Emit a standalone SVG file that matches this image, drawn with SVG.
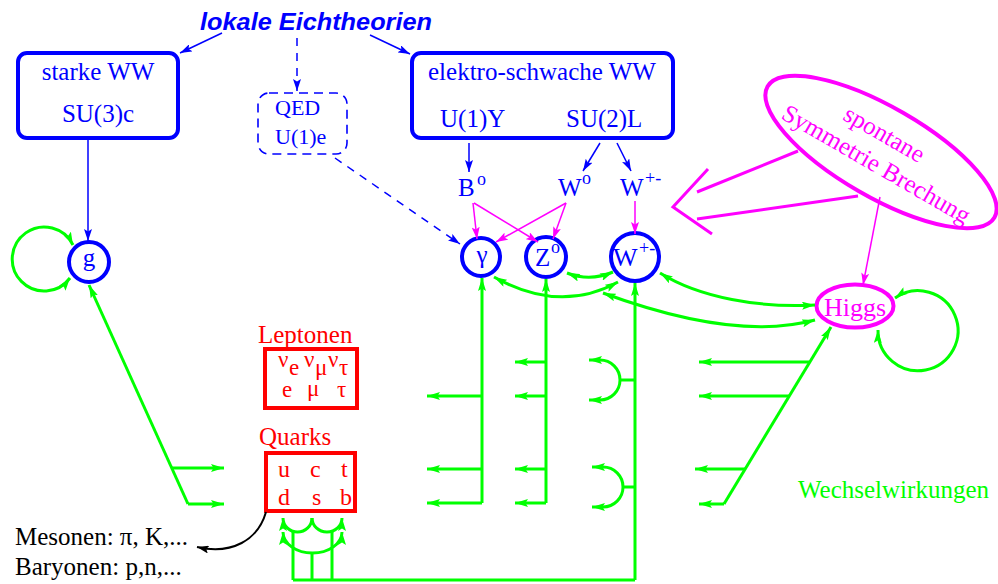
<svg xmlns="http://www.w3.org/2000/svg" width="998" height="584" viewBox="0 0 998 584">
<defs>
<marker id="ab" markerUnits="userSpaceOnUse" markerWidth="12" markerHeight="8" refX="12" refY="4" orient="auto-start-reverse"><path d="M0,0 L12,4 L0,8 L2.5,4 z" fill="#0000ff"/></marker>
<marker id="ag" markerUnits="userSpaceOnUse" markerWidth="13" markerHeight="8" refX="13" refY="4" orient="auto-start-reverse"><path d="M0,0 L13,4 L0,8 L2.5,4 z" fill="#00ff00"/></marker>
<marker id="am" markerUnits="userSpaceOnUse" markerWidth="12" markerHeight="8" refX="12" refY="4" orient="auto-start-reverse"><path d="M0,0 L12,4 L0,8 L2.5,4 z" fill="#ff00ff"/></marker>
<marker id="ak" markerUnits="userSpaceOnUse" markerWidth="12" markerHeight="8" refX="12" refY="4" orient="auto-start-reverse"><path d="M0,0 L12,4 L0,8 L2.5,4 z" fill="#000000"/></marker>
</defs>
<style>
text{font-family:"Liberation Serif","Times New Roman",serif;font-size:25px}
.t{font-family:"Liberation Sans",Arial,sans-serif;font-weight:bold;font-style:italic;font-size:23px;fill:#0000ff}
.b{fill:#0000ff}
.r{fill:#ff0000}
.m{fill:#ff00ff}
.g{fill:#00ff00}
.k{fill:#000000}
.sup{font-size:18px}
.box{fill:none;stroke:#0000ff;stroke-width:4}
.dbox{fill:none;stroke:#0000ff;stroke-width:1.6;stroke-dasharray:9 6}
.circ{fill:none;stroke:#0000ff;stroke-width:4}
.rbox{fill:none;stroke:#ff0000;stroke-width:4}
.mel{fill:none;stroke:#ff00ff;stroke-width:4}
.bl{fill:none;stroke:#0000ff;stroke-width:1.5}
.bd{fill:none;stroke:#0000ff;stroke-width:1.5;stroke-dasharray:8 7}
.ml{fill:none;stroke:#ff00ff;stroke-width:1.5}
.mt{fill:none;stroke:#ff00ff;stroke-width:3}
.gl{fill:none;stroke:#00ff00;stroke-width:3}
.kl{fill:none;stroke:#000000;stroke-width:2}
</style>

<g id="title"><text class="t" x="200" y="30" textLength="232" lengthAdjust="spacingAndGlyphs">lokale Eichtheorien</text></g>

<g id="starke">
<rect class="box" x="18" y="53" width="160" height="85" rx="9"/>
<text class="b" x="98" y="80" text-anchor="middle">starke WW</text>
<text class="b" x="98" y="122" text-anchor="middle">SU(3)c</text>
</g>

<g id="qed">
<rect class="dbox" x="258" y="93" width="89" height="61" rx="11"/>
<text class="b" x="275" y="115" style="font-size:22px">QED</text>
<text class="b" x="275" y="144" style="font-size:22px">U(1)e</text>
</g>

<g id="elektroschwach">
<rect class="box" x="412" y="53" width="261" height="85" rx="9"/>
<text class="b" x="428" y="80">elektro-schwache WW</text>
<text class="b" x="440" y="127">U(1)Y</text>
<text class="b" x="566" y="127">SU(2)L</text>
</g>

<g id="B0"><text class="b" x="458" y="196">B</text><text class="b sup" x="477" y="185">o</text></g>
<g id="W0"><text class="b" x="558" y="196">W</text><text class="b sup" x="582" y="184">o</text></g>
<g id="Wpm"><text class="b" x="620" y="196">W</text><text class="b sup" x="645" y="184">+-</text></g>

<g id="gluon"><circle class="circ" cx="89" cy="262" r="20"/><text class="b" x="89" y="266" text-anchor="middle">g</text></g>
<g id="photon"><circle class="circ" cx="481" cy="257" r="19"/><text class="b" x="482" y="263" text-anchor="middle">γ</text></g>
<g id="Z0"><circle class="circ" cx="546" cy="257" r="20"/><text class="b" x="535" y="266">Z</text><text class="b sup" x="551" y="253">o</text></g>
<g id="Wboson"><circle class="circ" cx="635" cy="257" r="24"/><text class="b" x="613" y="266" style="font-size:26px">W</text><text class="b sup" x="639" y="254">+-</text></g>

<g id="higgs"><ellipse class="mel" cx="855" cy="306" rx="38.5" ry="21.5"/><text class="m" x="855" y="316" text-anchor="middle" style="font-size:26px">Higgs</text></g>

<g id="ssb">
<ellipse class="mel" cx="0" cy="0" rx="131" ry="45" transform="translate(881,152) rotate(30)"/>
<g transform="translate(881,152) rotate(30)">
<text class="m" x="-6" y="-9" text-anchor="middle">spontane</text>
<text class="m" x="2" y="21" text-anchor="middle">Symmetrie Brechung</text>
</g>
</g>

<g id="leptonen">
<text class="r" x="258" y="343">Leptonen</text>
<rect class="rbox" x="265" y="349" width="92" height="59"/>
<text class="r" style="font-size:23px"><tspan x="278" y="367">ν</tspan><tspan x="289" y="375">e</tspan><tspan x="304" y="367">ν</tspan><tspan x="315" y="375">μ</tspan><tspan x="328" y="367">ν</tspan><tspan x="339" y="375">τ</tspan></text>
<text class="r" style="font-size:23px"><tspan x="282" y="397">e</tspan><tspan x="307" y="396">μ</tspan><tspan x="337" y="397">τ</tspan></text>
</g>

<g id="quarks">
<text class="r" x="259" y="445">Quarks</text>
<rect class="rbox" x="266" y="453" width="89" height="58"/>
<text class="r" style="font-size:24px"><tspan x="278" y="477">u</tspan><tspan x="310" y="477">c</tspan><tspan x="341" y="477">t</tspan></text>
<text class="r" style="font-size:24px"><tspan x="278" y="505">d</tspan><tspan x="312" y="505">s</tspan><tspan x="340" y="505">b</tspan></text>
</g>

<g id="hadronen">
<text class="k" x="15" y="545">Mesonen: π, K,...</text>
<text class="k" x="15" y="575">Baryonen: p,n,...</text>
</g>

<g id="wechselwirkungen"><text class="g" x="798" y="498">Wechselwirkungen</text></g>

<g id="connectors">
<!-- blue -->
<path class="bl" d="M222,33 L180,53" marker-end="url(#ab)"/>
<path class="bd" d="M297,38 L297,91" marker-end="url(#ab)"/>
<path class="bl" d="M370,35 L410,54" marker-end="url(#ab)"/>
<path class="bl" d="M88,140 L88,241" marker-end="url(#ab)"/>
<path class="bd" d="M335,158 L460,244" marker-end="url(#ab)"/>
<path class="bl" d="M469,143 L469,172" marker-end="url(#ab)"/>
<path class="bl" d="M600,143 L583,171" marker-end="url(#ab)"/>
<path class="bl" d="M617,143 L631,171" marker-end="url(#ab)"/>
<!-- magenta -->
<path class="ml" d="M473,203 L477,239" marker-end="url(#am)"/>
<path class="ml" d="M474,203 L538,242" marker-end="url(#am)"/>
<path class="ml" d="M566,203 L496,242" marker-end="url(#am)"/>
<path class="ml" d="M566,203 L553,239" marker-end="url(#am)"/>
<path class="ml" d="M635,201 L635,234" marker-end="url(#am)"/>
<path class="ml" d="M880,197 L863,285" marker-end="url(#am)"/>
<path class="mt" d="M708,169 L673,207 L712,234"/>
<path class="mt" d="M798,151 L697,192"/>
<path class="mt" d="M858,196 L697,219"/>
<!-- green: gluon -->
<path class="gl" d="M70,278 A32,32 0 1 1 73,245" marker-start="url(#ag)" marker-end="url(#ag)"/>
<path class="gl" d="M188,504 L89,285" marker-end="url(#ag)"/>
<path class="gl" d="M188,504 L224,504" marker-end="url(#ag)"/>
<path class="gl" d="M172,468 L224,468" marker-end="url(#ag)"/>
<!-- green: photon column -->
<path class="gl" d="M482,503 L482,278" marker-end="url(#ag)"/>
<path class="gl" d="M482,396 L427,396" marker-end="url(#ag)"/>
<path class="gl" d="M482,469 L427,469" marker-end="url(#ag)"/>
<path class="gl" d="M482,503 L427,503" marker-end="url(#ag)"/>
<!-- green: Z column -->
<path class="gl" d="M546,503 L546,279" marker-end="url(#ag)"/>
<path class="gl" d="M546,362 L515,362" marker-end="url(#ag)"/>
<path class="gl" d="M546,396 L515,396" marker-end="url(#ag)"/>
<path class="gl" d="M546,469 L515,469" marker-end="url(#ag)"/>
<path class="gl" d="M546,503 L515,503" marker-end="url(#ag)"/>
<!-- green: W column -->
<path class="gl" d="M635,580 L635,283" marker-end="url(#ag)"/>
<path class="gl" d="M635,380 L620,380"/>
<path class="gl" d="M589,360 L600,360 A20,20 0 0 1 600,400 L589,400" marker-start="url(#ag)" marker-end="url(#ag)"/>
<path class="gl" d="M635,487 L623,487"/>
<path class="gl" d="M592,467 L603,467 A20,20 0 0 1 603,507 L592,507" marker-start="url(#ag)" marker-end="url(#ag)"/>
<!-- green: quark loops -->
<path class="gl" d="M293,580 L635,580"/>
<path class="gl" d="M293,530 L293,580 M312,553 L312,580 M332,530 L332,580"/>
<path class="gl" d="M283,518 A14.5,14 0 0 0 312,518" marker-start="url(#ag)"/>
<path class="gl" d="M312,518 A15,14 0 0 0 342,518" marker-end="url(#ag)"/>
<path class="gl" d="M283,532 A29.5,21 0 0 0 342,532" marker-start="url(#ag)" marker-end="url(#ag)"/>
<!-- green: boson-boson -->
<path class="gl" d="M567,273 Q590,282 613,272" marker-start="url(#ag)" marker-end="url(#ag)"/>
<path class="gl" d="M494,277 Q560,314 618,282" marker-start="url(#ag)" marker-end="url(#ag)"/>
<path class="gl" d="M660,273 C700,298 760,308 815,305" marker-start="url(#ag)" marker-end="url(#ag)"/>
<path class="gl" d="M603,293 C690,325 760,335 815,320" marker-start="url(#ag)" marker-end="url(#ag)"/>
<!-- green: Higgs -->
<path class="gl" d="M895,298 A40,40 0 1 1 878,330" marker-start="url(#ag)" marker-end="url(#ag)"/>
<path class="gl" d="M724,504 L831,327" marker-end="url(#ag)"/>
<path class="gl" d="M724,504 L699,504" marker-end="url(#ag)"/>
<path class="gl" d="M809,362 L699,362" marker-end="url(#ag)"/>
<path class="gl" d="M789,396 L699,396" marker-end="url(#ag)"/>
<path class="gl" d="M745,469 L695,469" marker-end="url(#ag)"/>
<!-- black: hadrons -->
<path class="kl" d="M266,512 C258,540 232,555 197,547" marker-end="url(#ak)"/>
</g>
</svg>
